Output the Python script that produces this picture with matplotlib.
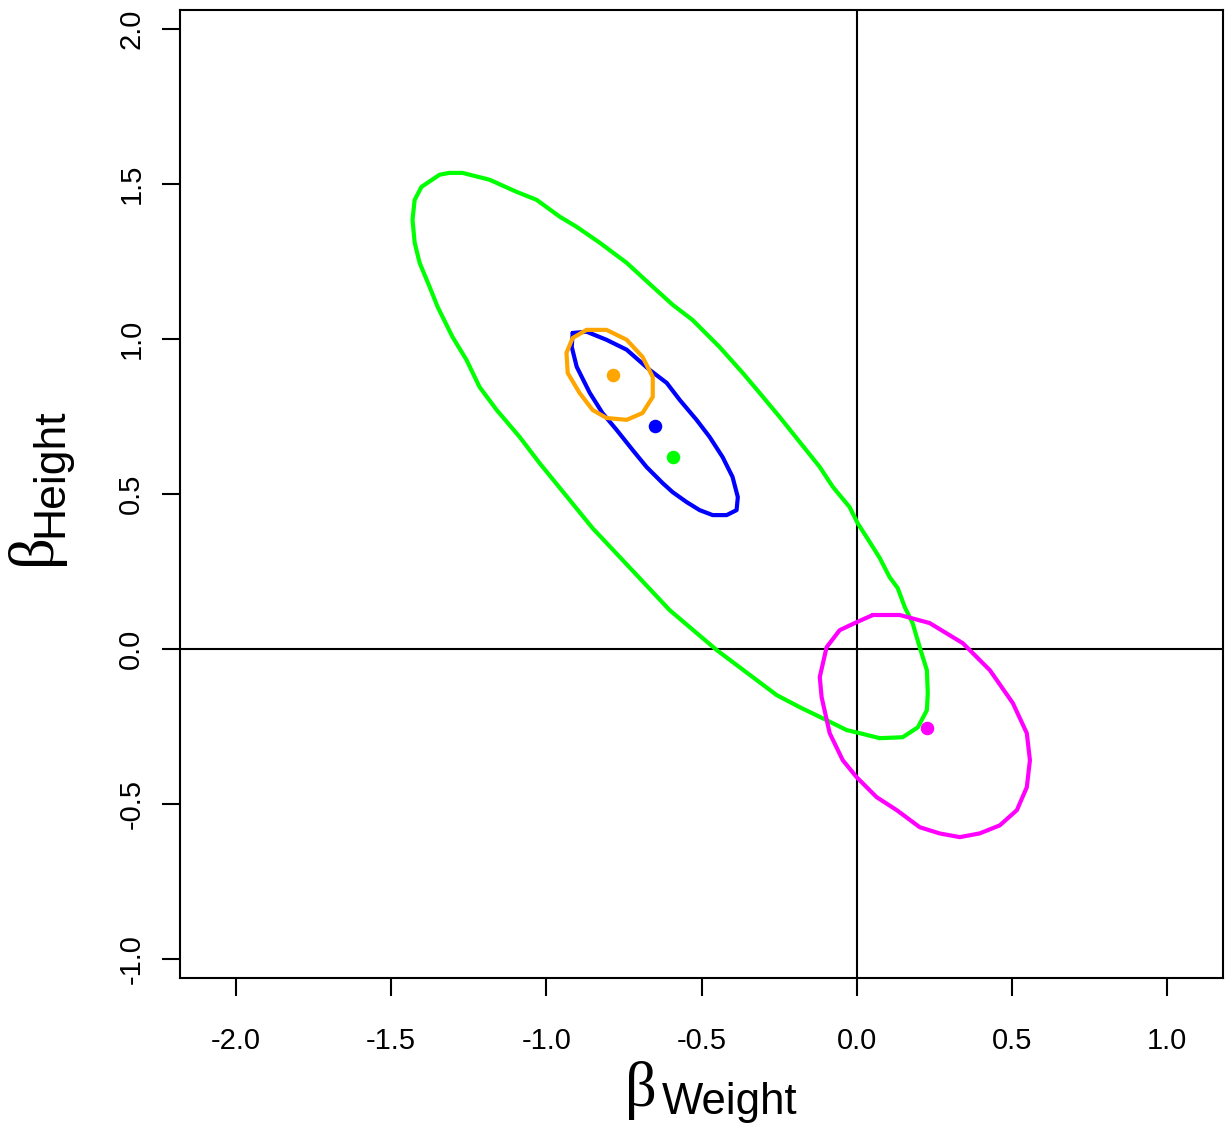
import numpy as np
import matplotlib
matplotlib.use("Agg")
import matplotlib.pyplot as plt

plt.rcParams['font.family'] = ['Liberation Sans', 'DejaVu Sans']
plt.rcParams['axes.unicode_minus'] = False

# point estimates (beta_weight, beta_height)
est_names = ["green", "blue", "orange", "magenta"]
est_x = [-0.593, -0.651, -0.786, 0.226]
est_y = [0.619, 0.719, 0.884, -0.255]

# confidence region outlines
green_x = [-1.312, -1.270, -1.183, -1.096, -1.031, -0.957, -0.902, -0.828, -0.741, -0.657,
           -0.593, -0.529, -0.442, -0.367, -0.313, -0.248, -0.119, -0.077, -0.023, 0.003,
           0.042, 0.074, 0.106, 0.132, 0.155, 0.180, 0.203, 0.226, 0.229, 0.226,
           0.197, 0.148, 0.074, 0.010, -0.032, -0.097, -0.184, -0.258, -0.451, -0.603,
           -0.754, -0.851, -0.925, -1.022, -1.086, -1.160, -1.215, -1.257, -1.302, -1.350,
           -1.376, -1.408, -1.424, -1.431, -1.424, -1.402, -1.344, -1.312]
green_y = [1.535, 1.535, 1.513, 1.474, 1.448, 1.394, 1.361, 1.310, 1.245, 1.168,
           1.110, 1.061, 0.974, 0.890, 0.826, 0.748, 0.587, 0.523, 0.458, 0.406,
           0.345, 0.294, 0.232, 0.197, 0.135, 0.084, 0.006, -0.068, -0.142, -0.197,
           -0.252, -0.284, -0.287, -0.271, -0.261, -0.229, -0.187, -0.148, -0.003, 0.126,
           0.287, 0.390, 0.481, 0.600, 0.684, 0.771, 0.845, 0.932, 1.006, 1.103,
           1.168, 1.245, 1.310, 1.384, 1.448, 1.490, 1.529, 1.535]

blue_x = [-0.915, -0.870, -0.806, -0.741, -0.667, -0.612, -0.570, -0.516, -0.474, -0.432,
          -0.400, -0.383, -0.387, -0.419, -0.464, -0.506, -0.548, -0.593, -0.625, -0.677,
          -0.722, -0.773, -0.819, -0.860, -0.902, -0.918, -0.915]
blue_y = [1.019, 1.023, 0.997, 0.965, 0.900, 0.858, 0.803, 0.739, 0.684, 0.619,
          0.555, 0.490, 0.448, 0.432, 0.432, 0.448, 0.474, 0.506, 0.535, 0.587,
          0.642, 0.706, 0.761, 0.826, 0.910, 0.974, 1.019]

orange_x = [-0.870, -0.806, -0.741, -0.690, -0.657, -0.657, -0.690, -0.741, -0.806, -0.851,
            -0.893, -0.931, -0.935, -0.915, -0.870]
orange_y = [1.029, 1.029, 0.997, 0.942, 0.877, 0.813, 0.761, 0.739, 0.745, 0.771,
            0.826, 0.890, 0.955, 1.003, 1.029]

magenta_x = [0.052, 0.139, 0.235, 0.342, 0.429, 0.503, 0.548, 0.558, 0.548, 0.516,
             0.461, 0.396, 0.332, 0.267, 0.203, 0.129, 0.064, 0.000, -0.045, -0.087,
             -0.113, -0.119, -0.097, -0.055, 0.000, 0.052]
magenta_y = [0.110, 0.110, 0.084, 0.019, -0.068, -0.174, -0.271, -0.358, -0.445, -0.519,
             -0.568, -0.594, -0.606, -0.594, -0.574, -0.519, -0.477, -0.413, -0.358, -0.271,
             -0.155, -0.090, 0.006, 0.061, 0.087, 0.110]

xticks = [-2.0, -1.5, -1.0, -0.5, 0.0, 0.5, 1.0]
yticks = [-1.0, -0.5, 0.0, 0.5, 1.0, 1.5, 2.0]

colors = {"green": "#00FF00", "blue": "#0000FF", "orange": "#FFA500", "magenta": "#FF00FF"}

W, H = 1226, 1136
fig = plt.figure(figsize=(W / 100, H / 100), dpi=100)
ax = fig.add_axes([180 / W, 1 - 978 / H, (1223 - 180) / W, (978 - 10) / H])

ax.axhline(0, color="black", lw=1.5, zorder=1)
ax.axvline(0, color="black", lw=1.5, zorder=1)

line_kw = dict(lw=3, solid_joinstyle="round", solid_capstyle="round")
ax.plot(green_x, green_y, color=colors["green"], zorder=2, **line_kw)
ax.plot(blue_x, blue_y, color=colors["blue"], zorder=2, **line_kw)
ax.plot(orange_x, orange_y, color=colors["orange"], zorder=3, **line_kw)
ax.plot(magenta_x, magenta_y, color=colors["magenta"], zorder=2, **line_kw)

for n, x, y in zip(est_names, est_x, est_y):
    ax.scatter(x, y, s=95, color=colors[n], zorder=4, linewidths=0)

ax.set_xlim(-2.18, 1.18)
ax.set_ylim(-1.06, 2.06)
ax.set_xticks(xticks)
ax.set_yticks(yticks)
ax.set_xticklabels([f"{v:.1f}" for v in xticks], fontsize=21)
ax.set_yticklabels([f"{v:.1f}" for v in yticks], fontsize=21, rotation=90, va="center")
ax.tick_params(axis="x", length=13, width=1.5, pad=22)
ax.tick_params(axis="y", length=13, width=1.5, pad=12)
for s in ax.spines.values():
    s.set_linewidth(1.5)

# axis labels: beta with subscript text
fig.text(625 / W, 1 - 1106 / H, "β", fontsize=45, family="Liberation Serif",
         ha="left", va="baseline")
fig.text(662 / W, 1 - 1114 / H, "Weight", fontsize=31.5, ha="left", va="baseline")
fig.text(50 / W, 1 - 565 / H, "β", fontsize=45, family="Liberation Serif",
         ha="left", va="baseline", rotation=90, rotation_mode="anchor")
fig.text(62 / W, 1 - 537 / H, "Height", fontsize=32, ha="left", va="baseline",
         rotation=90, rotation_mode="anchor")

fig.savefig("out.png", dpi=100)
